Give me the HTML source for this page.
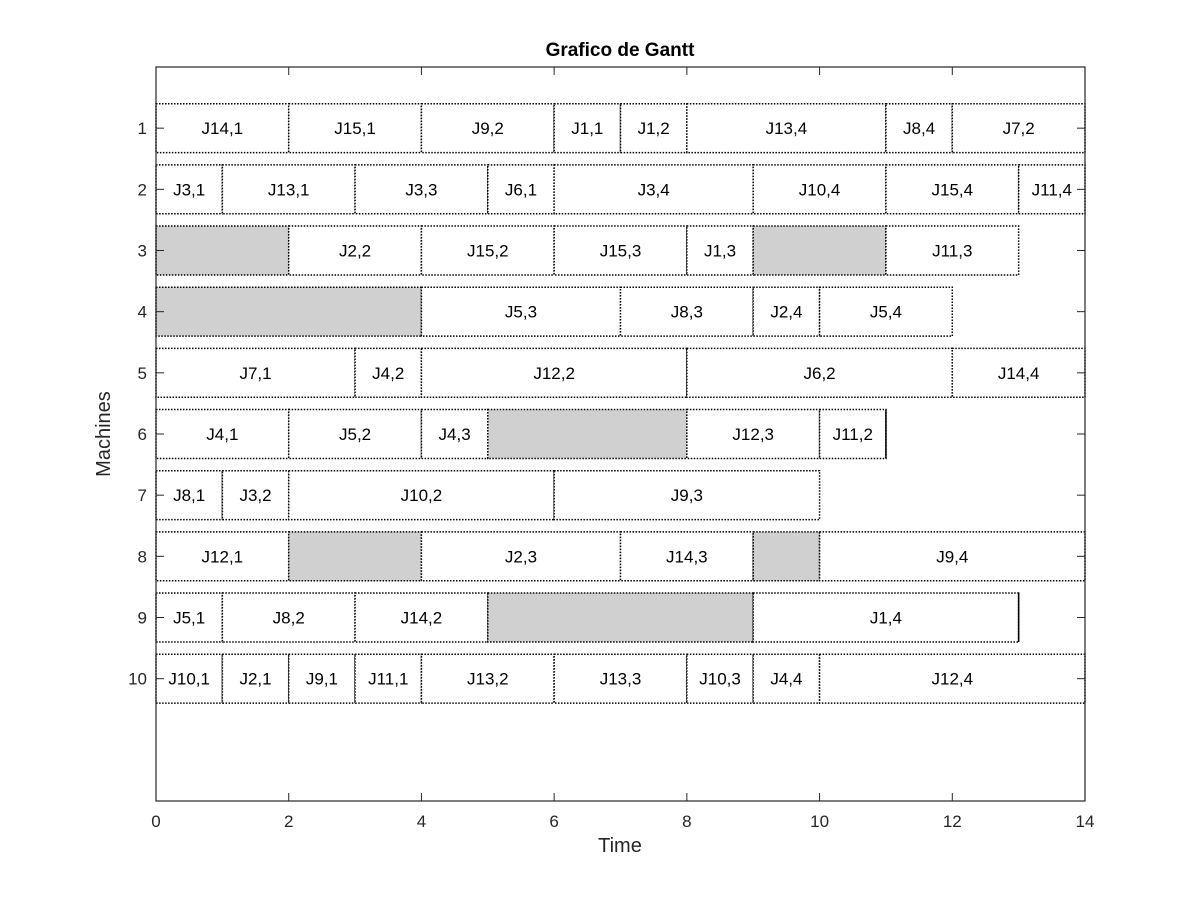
<!DOCTYPE html>
<html><head><meta charset="utf-8"><style>
body{margin:0;background:#fff;}
svg{display:block;font-family:"Liberation Sans",Arial,sans-serif;}
</style></head><body>
<svg id="chart" width="1200" height="900">
<rect width="1200" height="900" fill="#fff"/>
<g id="bars"></g>
<g id="axes"></g>
<text x="620" y="56" text-anchor="middle" font-size="19" font-weight="bold">Grafico de Gantt</text>
<text x="620" y="852" text-anchor="middle" font-size="20" fill="#262626">Time</text>
<text x="110" y="434" text-anchor="middle" font-size="20" fill="#262626" transform="rotate(-90 110 434)">Machines</text>
</svg>
<script>
const machines = [1,2,3,4,5,6,7,8,9,10];
const xTicks = [0,2,4,6,8,10,12,14];
// each task: [machine, start, end, label]; label "" = idle
const tasks = [
[1,0,2,"J14,1"],[1,2,4,"J15,1"],[1,4,6,"J9,2"],[1,6,7,"J1,1"],[1,7,8,"J1,2"],[1,8,11,"J13,4"],[1,11,12,"J8,4"],[1,12,14,"J7,2"],
[2,0,1,"J3,1"],[2,1,3,"J13,1"],[2,3,5,"J3,3"],[2,5,6,"J6,1"],[2,6,9,"J3,4"],[2,9,11,"J10,4"],[2,11,13,"J15,4"],[2,13,14,"J11,4"],
[3,0,2,""],[3,2,4,"J2,2"],[3,4,6,"J15,2"],[3,6,8,"J15,3"],[3,8,9,"J1,3"],[3,9,11,""],[3,11,13,"J11,3"],
[4,0,4,""],[4,4,7,"J5,3"],[4,7,9,"J8,3"],[4,9,10,"J2,4"],[4,10,12,"J5,4"],
[5,0,3,"J7,1"],[5,3,4,"J4,2"],[5,4,8,"J12,2"],[5,8,12,"J6,2"],[5,12,14,"J14,4"],
[6,0,2,"J4,1"],[6,2,4,"J5,2"],[6,4,5,"J4,3"],[6,5,8,""],[6,8,10,"J12,3"],[6,10,11,"J11,2"],
[7,0,1,"J8,1"],[7,1,2,"J3,2"],[7,2,6,"J10,2"],[7,6,10,"J9,3"],
[8,0,2,"J12,1"],[8,2,4,""],[8,4,7,"J2,3"],[8,7,9,"J14,3"],[8,9,10,""],[8,10,14,"J9,4"],
[9,0,1,"J5,1"],[9,1,3,"J8,2"],[9,3,5,"J14,2"],[9,5,9,""],[9,9,13,"J1,4"],
[10,0,1,"J10,1"],[10,1,2,"J2,1"],[10,2,3,"J9,1"],[10,3,4,"J11,1"],[10,4,6,"J13,2"],[10,6,8,"J13,3"],[10,8,9,"J10,3"],[10,9,10,"J4,4"],[10,10,14,"J12,4"]
];
const solidEnds = [6,9];
const NS="http://www.w3.org/2000/svg";
const L=156,R=1085,T=67,B=801;
const X=v=>L+(R-L)*v/14;
const Y=v=>T+(B-T)*v/12;
function mk(tag,attrs,parent){const e=document.createElementNS(NS,tag);for(const k in attrs)e.setAttribute(k,attrs[k]);parent.appendChild(e);return e;}
const bars=document.getElementById('bars'), axes=document.getElementById('axes');
const h=0.4;
tasks.forEach(t=>{
  const [m,s,e,lab]=t;
  const r=mk('rect',{x:X(s),y:Y(m-h),width:X(e)-X(s),height:Y(m+h)-Y(m-h),fill:lab?"#fff":"#d0d0d0",stroke:"#000","stroke-width":1.5,"stroke-dasharray":"1.5,1.5"},bars);
  
  
  if(lab){
    const tx=mk('text',{x:(X(s)+X(e))/2,y:Y(m)+6,"text-anchor":"middle","font-size":17},bars);
    tx.textContent=lab;
    
    
  }
});
solidEnds.forEach(m=>{
  const end=Math.max(...tasks.filter(t=>t[0]===m).map(t=>t[2]));
  const ln=mk('line',{x1:X(end),x2:X(end),y1:Y(m-h),y2:Y(m+h),stroke:"#000","stroke-width":1.5},bars);
  
  
});
const box=mk('rect',{x:L,y:T,width:R-L,height:B-T,fill:"none",stroke:"#262626","stroke-width":1.2},axes);


xTicks.forEach(v=>{
  mk('line',{x1:X(v),x2:X(v),y1:B,y2:B-8,stroke:"#262626"},axes);
  mk('line',{x1:X(v),x2:X(v),y1:T,y2:T+8,stroke:"#262626"},axes);
  const tx=mk('text',{x:X(v),y:B+26,"text-anchor":"middle","font-size":17,fill:"#262626"},axes);
  tx.textContent=v;
  
  
});
machines.forEach(m=>{
  mk('line',{x1:L,x2:L+8,y1:Y(m),y2:Y(m),stroke:"#262626"},axes);
  mk('line',{x1:R,x2:R-8,y1:Y(m),y2:Y(m),stroke:"#262626"},axes);
  const tx=mk('text',{x:L-9,y:Y(m)+6,"text-anchor":"end","font-size":17,fill:"#262626"},axes);
  tx.textContent=m;
  
  
});
</script>
</body></html>
